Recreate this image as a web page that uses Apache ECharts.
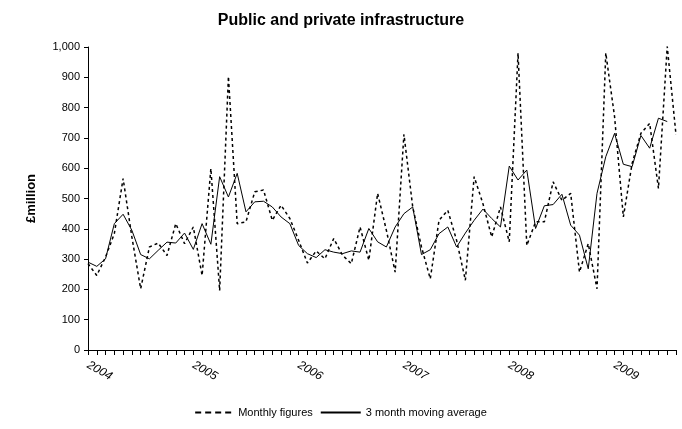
<!DOCTYPE html>
<html>
<head>
<meta charset="utf-8">
<script src="https://cdn.jsdelivr.net/npm/echarts@6/dist/echarts.min.js"></script>
<style>html,body{margin:0;padding:0;background:#fff}#main{width:682px;height:429px}</style>
</head>
<body>
<div id="main"></div>
<script>
// monthly values, Jan 2004 - Aug 2009
var years = ['2004', '2005', '2006', '2007', '2008', '2009'];
var monthly = [285, 246, 307, 384, 566, 373, 202, 340, 353, 312, 417, 351,
	406, 246, 599, 196, 903, 417, 423, 522, 528, 428, 478, 434,
	362, 287, 327, 301, 368, 313, 285, 406, 296, 517, 395, 257,
	712, 472, 340, 235, 428, 461, 362, 230, 572, 483, 373, 472,
	357, 980, 345, 423, 423, 555, 494, 517, 257, 351, 202, 980,
	770, 439, 616, 715, 748, 533, 1002, 710];
var movingAvg = [290, 276, 301, 417, 448, 395, 315, 301, 329, 356, 353, 386,
	332, 417, 349, 572, 505, 583, 456, 489, 491, 472, 439, 417,
	345, 318, 305, 331, 323, 318, 327, 323, 401, 357, 340, 406,
	450, 472, 315, 331, 384, 406, 340, 386, 428, 465, 434, 406,
	607, 561, 594, 401, 476, 480, 514, 412, 379, 268, 517, 638,
	715, 613, 605, 708, 666, 765, 754, null];

var cats = [];
for (var i = 0; i < monthly.length; i++) {
	cats.push(i % 12 == 0 ? years[i / 12] : '');
}

var myChart = echarts.init(document.getElementById('main'));
var option = {
	animation: false,
	textStyle: { fontFamily: 'Liberation Sans' },
	title: {
		text: 'Public and private infrastructure',
		left: 'center', top: 8,
		textStyle: { fontSize: 16, fontWeight: 'bold', color: '#000', fontFamily: 'Liberation Sans' }
	},
	legend: {
		bottom: 6, left: 'center', itemWidth: 40, itemHeight: 2, itemGap: 8,
		textStyle: { fontSize: 11, color: '#000' },
		data: [
			{ name: 'Monthly figures', icon: 'path://M0,0H6V2H0ZM10,0H16V2H10ZM20,0H26V2H20ZM30,0H36V2H30Z' },
			{ name: '3 month moving average', icon: 'rect' }
		]
	},
	grid: { left: 88, right: 6, top: 47, bottom: 79 },
	xAxis: {
		type: 'category', boundaryGap: false, data: cats,
		axisLine: { lineStyle: { color: '#000' } },
		axisTick: { interval: 0, length: 5, lineStyle: { color: '#000' } },
		axisLabel: { interval: 0, rotate: -30, fontSize: 12, color: '#000', fontStyle: 'italic', margin: 14 }
	},
	yAxis: {
		type: 'value', min: 0, max: 1000, interval: 100,
		name: '£million', nameLocation: 'middle', nameGap: 50,
		nameTextStyle: { fontWeight: 'bold', fontSize: 13, color: '#000' },
		axisLine: { show: true, lineStyle: { color: '#000' } },
		axisTick: { show: true, length: 4, lineStyle: { color: '#000' } },
		axisLabel: { fontSize: 11, color: '#000', formatter: function (v) { return v >= 1000 ? '1,000' : v; } },
		splitLine: { show: false }
	},
	series: [
		{
			name: 'Monthly figures', type: 'line', data: monthly, symbol: 'none',
			itemStyle: { color: '#000' },
			lineStyle: { color: '#000', width: 1.5, type: [3, 3] }
		},
		{
			name: '3 month moving average', type: 'line', data: movingAvg, symbol: 'none',
			itemStyle: { color: '#000' },
			lineStyle: { color: '#000', width: 1 }
		}
	]
};
myChart.setOption(option);
</script>
</body>
</html>
